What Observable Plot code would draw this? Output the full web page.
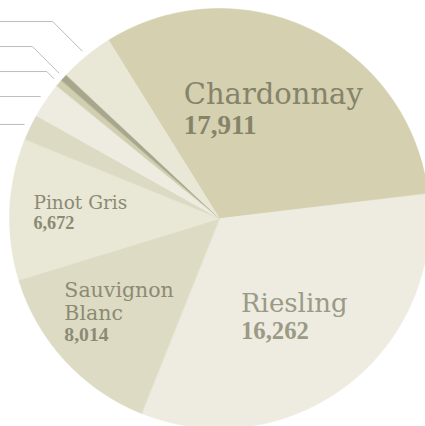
<!DOCTYPE html>
<html>
<head>
<meta charset="utf-8">
<script src="https://cdn.jsdelivr.net/npm/d3@7"></script>
<script src="https://cdn.jsdelivr.net/npm/@observablehq/plot@0.6"></script>
<style>
  html, body { margin: 0; padding: 0; background: #fff; overflow: hidden; }
</style>
</head>
<body>
<div id="chart"></div>
<script>
// ---- data ----
// slice order, clockwise from the Chardonnay slice
const varieties = ["Chardonnay", "Riesling", "Sauvignon Blanc", "Pinot Gris",
                   "unlabelled 5", "unlabelled 6", "unlabelled 7", "unlabelled 8", "unlabelled 9"];
// slice sizes estimated from the drawn angles
const sliceSizes = [17911, 18430, 7960, 6100, 1120, 1525, 310, 310, 2320];
// labelled slices and the totals printed on them
const labelled = ["Chardonnay", "Riesling", "Sauvignon Blanc", "Pinot Gris"];
const printedTotals = [17911, 16262, 8014, 6672];

// ---- styles ----
const sliceColors = ["#d4d0b0", "#eeece0", "#dddbc4", "#e9e7d5", "#dcdac3", "#eeece0", "#d2cfb0", "#a8a78e", "#e9e7d5"];
const textColor = {"Chardonnay": "#85836a", "Riesling": "#9a9a86", "Sauvignon Blanc": "#8c8a73", "Pinot Gris": "#8c8a73"};
const nameSize = {"Chardonnay": 29, "Riesling": 26, "Sauvignon Blanc": 20.5, "Pinot Gris": 18.5};
const numSize = {"Chardonnay": 27, "Riesling": 24.7, "Sauvignon Blanc": 19.7, "Pinot Gris": 18.2};
const nameFont = "DejaVu Serif";
const numFont = "Liberation Serif";
const nameLineHeight = 1.1; // em
const numGap = 1.1;         // number baseline below last name baseline, in number ems

// ---- layout ----
const W = 425, H = 426;
const cx = 219.5, cy = 218.5, R = 210;
const rotation = -31.9 * Math.PI / 180;
// narrower slices push their label further out
const labelRadius = d3.scaleLinear().domain([40, 120]).range([0.665, 0.58]);
const leaderRadius = 1.035;
const leaderGap = 25; // px between stacked leader lines

const pie = d3.pie().sort(null).value(d => d.v)
  .startAngle(rotation).endAngle(rotation + 2 * Math.PI);
const arcs = pie(varieties.map((name, i) => ({name, v: sliceSizes[i]})));

// wedge outline points (unit circle, y pointing down)
const step = Math.PI / 720;
const wedgePts = arcs.flatMap(a => {
  const n = Math.max(2, Math.ceil((a.endAngle - a.startAngle) / step));
  return d3.range(n + 1).map(j => {
    const t = a.startAngle + (a.endAngle - a.startAngle) * j / n;
    return {name: a.data.name, x: Math.sin(t), y: -Math.cos(t)};
  });
});

// measure text with canvas
const ctx = document.createElement("canvas").getContext("2d");
function textWidth(s, size, family, weight) {
  ctx.font = `${weight} ${size}px "${family}"`;
  return ctx.measureText(s).width;
}

// labels inside labelled slices
const fmt = d3.format(",");
const textMarks = [];
labelled.forEach((name, i) => {
  const a = arcs.find(d => d.data.name === name);
  const mid = (a.startAngle + a.endAngle) / 2;
  const spanDeg = (a.endAngle - a.startAngle) * 180 / Math.PI;
  const k = labelRadius(spanDeg);
  const ux = k * Math.sin(mid), uy = -k * Math.cos(mid);
  const px = cx + R * ux, py = cy + R * uy;
  const nfs = nameSize[name], mfs = numSize[name];
  const fullW = textWidth(name, nfs, nameFont, 400);
  const lines = (fullW > 6.5 * nfs && name.includes(" ")) ? name.split(" ") : [name];
  const numText = fmt(printedTotals[i]);
  const maxW = Math.max(...lines.map(l => textWidth(l, nfs, nameFont, 400)),
                        textWidth(numText, mfs, numFont, 700));
  const lineStep = nameLineHeight * nfs;
  const top = -0.729 * nfs;
  const bottom = (lines.length - 1) * lineStep + numGap * mfs;
  const b0 = py - (top + bottom) / 2;   // first name baseline (px)
  const left = px - maxW / 2;
  textMarks.push(Plot.text([{x: ux, y: uy, t: lines.join("\n")}], {
    x: "x", y: "y", text: "t", textAnchor: "start", lineAnchor: "top",
    lineHeight: nameLineHeight,
    dx: left - px, dy: b0 - py - 0.71 * lineStep,
    fontSize: nfs, fontFamily: nameFont, fontWeight: 400, fill: textColor[name]
  }));
  const nb = b0 + bottom;
  textMarks.push(Plot.text([{x: ux, y: uy, t: numText}], {
    x: "x", y: "y", text: "t", textAnchor: "start",
    dx: left - px, dy: nb - py - 0.32 * mfs,
    fontSize: mfs, fontFamily: numFont, fontWeight: 700, fill: textColor[name]
  }));
});

// leader lines for the unlabelled slices (their labels fall outside the picture)
const unl = arcs.filter(a => !labelled.includes(a.data.name))
  .map(a => {
    const mid = (a.startAngle + a.endAngle) / 2;
    return {name: a.data.name, x: leaderRadius * Math.sin(mid), y: -leaderRadius * Math.cos(mid)};
  })
  .sort((p, q) => q.y - p.y); // bottom first
const gapU = leaderGap / R;
let prevY = Infinity;
unl.forEach(p => { p.ly = Math.min(p.y, prevY - gapU); prevY = p.ly; });
const leaderPts = unl.flatMap(p => {
  const d = p.y - p.ly;
  return [
    {name: p.name, x: p.x, y: p.y},
    {name: p.name, x: p.x - d, y: p.ly},
    {name: p.name, x: -1.3, y: p.ly}
  ];
});

const chart = Plot.plot({
  width: W, height: H,
  margin: 0,
  x: {domain: [-1, 1], range: [cx - R, cx + R], axis: null},
  y: {domain: [-1, 1], range: [cy - R, cy + R], axis: null},
  color: {domain: varieties, range: sliceColors},
  style: {background: "#fff"},
  marks: [
    Plot.area(wedgePts, {
      x1: "x", y1: "y", x2: () => 0, y2: () => 0,
      z: "name", fill: "name", stroke: "name", strokeWidth: 0.5, curve: "linear"
    }),
    Plot.line(leaderPts, {x: "x", y: "y", z: "name", stroke: "#bdbdbd", strokeWidth: 1, curve: "linear"}),
    ...textMarks
  ]
});
document.getElementById("chart").appendChild(chart);
</script>
</body>
</html>
